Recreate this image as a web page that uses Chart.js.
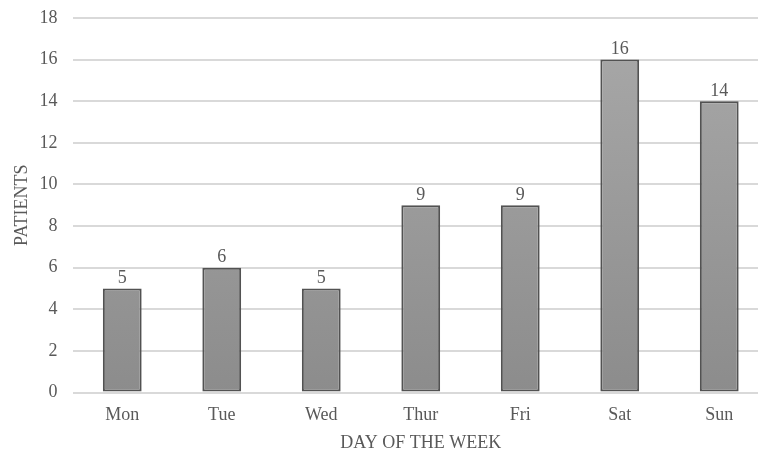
<!DOCTYPE html>
<html><head><meta charset="utf-8">
<script src="https://cdn.jsdelivr.net/npm/chart.js@4/dist/chart.umd.min.js"></script>
<style>
html,body{margin:0;padding:0;background:#fff;overflow:hidden;width:758px;height:454px;}
#wrap{width:770px;height:454px;}
</style></head>
<body><div id="wrap"><canvas id="c" width="770" height="454"></canvas></div>
<script>
const categories = ["Mon","Tue","Wed","Thur","Fri","Sat","Sun"];
const patients = [5,6,5,9,9,16,14];
const yTicks = [0,2,4,6,8,10,12,14,16,18];

const FONT = "'Liberation Serif','Times New Roman',serif";
const TXT = "#595959";

const labelPlugin = {
  id: 'valLabels',
  afterDatasetsDraw(chart){
    const ctx = chart.ctx;
    const meta = chart.getDatasetMeta(0);
    ctx.save();
    ctx.font = "18px " + FONT;
    ctx.fillStyle = TXT;
    ctx.textAlign = "center";
    ctx.textBaseline = "bottom";
    meta.data.forEach((bar,i)=>{
      ctx.fillText(String(patients[i]), bar.x, bar.y - 1);
    });
    ctx.restore();
  }
};

const ctx = document.getElementById('c').getContext('2d');
new Chart(ctx, {
  type: 'bar',
  data: {
    labels: categories,
    datasets: [{
      data: patients,
      backgroundColor: (c)=>{
        const area = c.chart.chartArea;
        if(!area) return '#999';
        const g = c.chart.ctx.createLinearGradient(0, area.top, 0, area.bottom);
        g.addColorStop(0, '#a9a9a9');
        g.addColorStop(1, '#8c8c8c');
        return g;
      },
      borderColor: '#525252',
      borderWidth: 2,
      borderSkipped: false,
      barPercentage: 0.39,
      categoryPercentage: 1.0
    }]
  },
  options: {
    responsive: false,
    animation: false,
    devicePixelRatio: 1,
    layout: { padding: { top: 18, right: 1, bottom: 0, left: 0 } },
    plugins: { legend: { display: false }, tooltip: { enabled: false } },
    scales: {
      x: {
        afterFit: (s)=>{ s.height = 61.5; s.paddingLeft = 0; s.paddingRight = 0; },
        grid: { display: false, drawTicks: false },
        border: { display: false },
        ticks: { color: TXT, font: { family: FONT, size: 18 }, padding: 12 },
        title: { display: true, text: "DAY OF THE WEEK", color: TXT, font: { family: FONT, size: 18 }, padding: { top: 4, bottom: 0 } }
      },
      y: {
        min: 0, max: 18,
        afterFit: (s)=>{ s.width = 72.5; s.paddingTop = 0; s.paddingBottom = 0; },
        afterBuildTicks: (s)=>{ s.ticks = yTicks.map(v=>({value:v})); },
        grid: { color: '#d9d9d9', lineWidth: 2, drawTicks: false },
        border: { display: false },
        ticks: { color: TXT, font: { family: FONT, size: 18 }, padding: 15 },
        title: { display: true, text: "PATIENTS", color: TXT, font: { family: FONT, size: 18 }, padding: { top: 11, bottom: 0 } }
      }
    }
  },
  plugins: [labelPlugin]
});
</script>
</body></html>
